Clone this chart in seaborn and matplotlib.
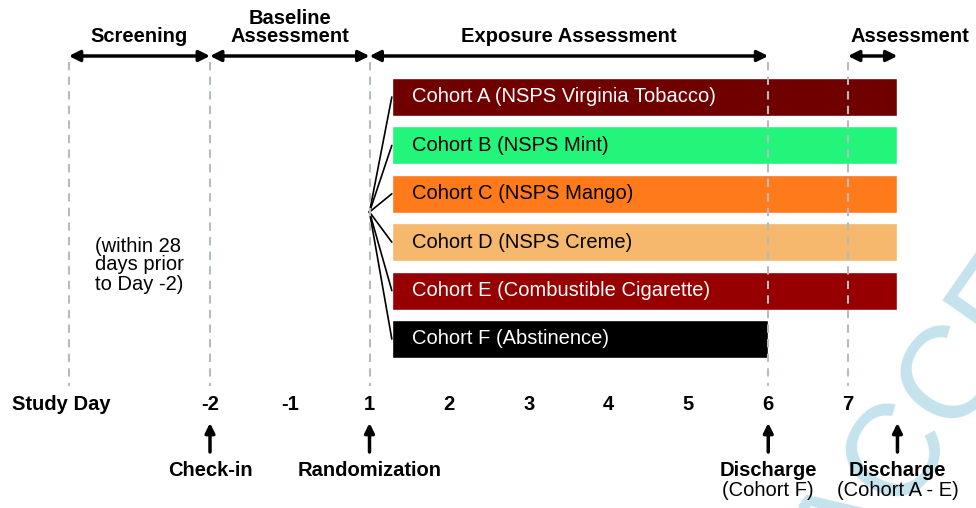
import matplotlib
matplotlib.use("Agg")
import matplotlib.pyplot as plt
import seaborn as sns

# study days shown on the timeline (one slot per label)
day_labels = ["-2", "-1", "1", "2", "3", "4", "5", "6", "7"]
screening_start = -1.77   # slot position where the screening window opens
bar_start = 2.28
discharge_ae = 8.62

cohorts = [
    "Cohort A (NSPS Virginia Tobacco)",
    "Cohort B (NSPS Mint)",
    "Cohort C (NSPS Mango)",
    "Cohort D (NSPS Creme)",
    "Cohort E (Combustible Cigarette)",
    "Cohort F (Abstinence)",
]
bar_end = [8.62, 8.62, 8.62, 8.62, 8.62, 7.0]
bar_colors = ["#700000", "#22F57A", "#FF7A1A", "#F6B86C", "#960000", "#000000"]
text_colors = ["white", "black", "black", "black", "white", "white"]

phases = ["Screening", "Baseline\nAssessment", "Exposure Assessment", "Assessment"]
phase_spans = [(screening_start, 0), (0, 2), (2, 7), (8, discharge_ae)]

events = ["Check-in", "Randomization", "Discharge", "Discharge"]
event_notes = ["", "", "(Cohort F)", "(Cohort A - E)"]
event_pos = [0, 2, 7, discharge_ae]

sns.set_style("white")
plt.rcParams["font.family"] = ["Liberation Sans", "DejaVu Sans"]
plt.rcParams["text.color"] = "black"

fig = plt.figure(figsize=(9.76, 5.08), dpi=100)
ax = fig.add_axes([0, 0, 1, 1])
px = 79.75
ax.set_xlim(-210 / px, (976 - 210) / px)
ax.set_ylim(508, 0)
ax.axis("off")

# faint watermark in the lower right corner
ax.text(8.05, 588, "ACCEPTED", color="#C4E3ED", fontsize=95, rotation=55,
        rotation_mode="anchor", ha="left", va="baseline", zorder=0)

row_y = [97 + 48.4 * i for i in range(len(cohorts))]

# cohort bars
ax.barh(row_y, [e - bar_start for e in bar_end], left=bar_start, height=38,
        color=bar_colors, zorder=2)
for y, name, tc in zip(row_y, cohorts, text_colors):
    ax.text(bar_start + 20 / px, y, name, color=tc, fontsize=14.5,
            ha="left", va="center", zorder=3)
    ax.plot([2, bar_start], [212, y], color="black", lw=1.2, zorder=2)

# dashed vertical guides
for x in [screening_start, 0, 2, 7, 8]:
    ax.plot([x, x], [62, 386], color="#B4BCBC", lw=1.5, dashes=(4, 3), zorder=4)

# phase arrows and headers
for name, (a, b) in zip(phases, phase_spans):
    ax.annotate("", xy=(b, 56), xytext=(a, 56),
                arrowprops=dict(arrowstyle="<|-|>", color="black", lw=2.5,
                                mutation_scale=16, shrinkA=0, shrinkB=0))
    xc = (a + b) / 2 if name != "Assessment" else 8 + 62 / px
    ax.text(xc, 46, name, fontsize=14.5, fontweight="bold", ha="center",
            va="bottom", linespacing=0.95)

ax.text(screening_start + 71 / px, 265, "(within 28\ndays prior\nto Day -2)",
        fontsize=14.5, ha="center", va="center", multialignment="left",
        linespacing=1.0)

# study day axis
ax.text(12 / px - 210 / px, 405, "Study Day", fontsize=14.5,
        fontweight="bold", ha="left", va="center")
for i, lab in enumerate(day_labels):
    ax.text(i, 405, lab, fontsize=14.5, fontweight="bold", ha="center", va="center")

# events
for name, note, x in zip(events, event_notes, event_pos):
    ax.annotate("", xy=(x, 423), xytext=(x, 452),
                arrowprops=dict(arrowstyle="-|>", color="black", lw=2.5,
                                mutation_scale=14, shrinkA=0, shrinkB=0))
    ax.text(x, 470, name, fontsize=14.5, fontweight="bold", ha="center", va="center")
    if note:
        ax.text(x, 491, note, fontsize=14.5, ha="center", va="center")

fig.savefig("out.png", dpi=100)
